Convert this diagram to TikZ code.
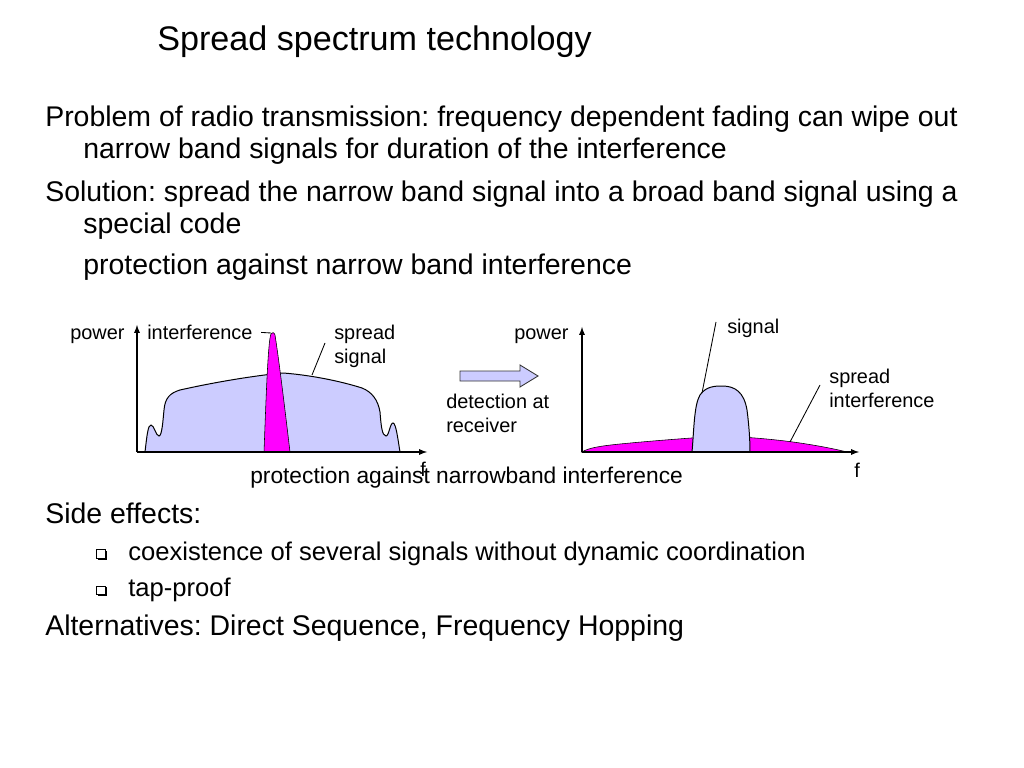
\documentclass[tikz,border=0pt]{standalone}
\usepackage{fontspec}
\setmainfont{Liberation Sans}
\usepackage{tikz}
\usetikzlibrary{arrows}
\tikzset{>=latex}
\definecolor{lavender}{RGB}{204,204,255}
\definecolor{hotpink}{RGB}{255,0,255}
\frenchspacing

\begin{document}
\begin{tikzpicture}[x=0.703125pt,y=-0.703125pt,
	txt/.style={anchor=base west,inner sep=0pt},
	ttl/.style={txt,font=\fontsize{24}{29}\selectfont},
	body/.style={txt,font=\fontsize{20}{24}\selectfont},
	subbody/.style={txt,font=\fontsize{18}{22}\selectfont},
	lbl/.style={txt,font=\fontsize{14}{17}\selectfont},
	captxt/.style={txt,font=\fontsize{16}{19}\selectfont},
	axis/.style={->,line width=0.9pt},
	lead/.style={line width=0.6pt},
	curve/.style={line width=0.7pt,draw=black}]
	\useasboundingbox[fill=white] (0,0) rectangle (1024,768);
	% text of the slide
	\node[ttl] (title) at (157,51) {Spread spectrum technology};
	\node[body] (prob1) at (45,127) {Problem of radio transmission: frequency dependent fading can wipe out};
	\node[body] (prob2) at (83,159) {narrow band signals for duration of the interference};
	\node[body] (sol1) at (45,201.5) {Solution: spread the narrow band signal into a broad band signal using a};
	\node[body] (sol2) at (83,233.5) {special code};
	\node[body] (prot) at (83,275) {protection against narrow band interference};
	\node[body] (side) at (45,523) {Side effects:};
	\node[subbody] (coex) at (128,560) {coexistence of several signals without dynamic coordination};
	\node[subbody] (tap) at (128,596.5) {tap-proof};
	\node[body] (alt) at (45,635) {Alternatives: Direct Sequence, Frequency Hopping};
	\foreach \y in {549.5,586}{
		\fill (97.5,\y+8) rectangle (106.8,\y+10.2);
		\fill (104.6,\y+1) rectangle (106.8,\y+10.2);
		\draw[line width=0.5pt] (96.5,\y) rectangle (105,\y+8.5);
	}
	% left spectrum
	\coordinate (o1) at (137,452);
	\coordinate (y1) at (137,325);
	\coordinate (x1) at (427,452);
	\filldraw[curve,fill=lavender] (145,452) .. controls (147,435) and (148,425) .. (151,425)
		.. controls (154,425) and (156,436) .. (159,436)
		.. controls (162,436) and (163,420) .. (164,410)
		.. controls (165,398) and (170,393) .. (180,390)
		.. controls (220,381) and (260,375) .. (283,373)
		.. controls (310,375) and (340,381) .. (362,388)
		.. controls (372,392) and (378,400) .. (380,412)
		.. controls (381,425) and (382,436) .. (386,436)
		.. controls (389,436) and (390,423) .. (393,423)
		.. controls (396,423) and (398,440) .. (400,452) -- cycle;
	\filldraw[curve,fill=hotpink,line width=0.4pt] (264,452) .. controls (266,400) and (268,340) .. (271,334)
		.. controls (272,332) and (274,332) .. (275,335)
		.. controls (279,360) and (285,410) .. (290,452) -- cycle;
	\draw[axis] (o1) -- (y1);
	\draw[axis] (o1) -- (x1);
	\node[lbl] (pow1) at (70,339) {power};
	\node[lbl] (intf) at (147,339) {interference};
	\node[lbl] (spr1) at (334,339) {spread};
	\node[lbl] (sig1) at (334,363) {signal};
	\node[lbl] (f1) at (420,476) {f};
	\coordinate (peak) at (271,333);
	\coordinate (top1) at (325,343);
	\coordinate (edge1) at (312,375);
	\draw[lead,shorten <=6pt] (intf.east) -- (peak);
	\draw[lead] (top1) -- (edge1);
	\node[captxt] (protnb) at (250,483) {protection against narrowband interference};
	% block arrow
	\filldraw[fill=lavender,draw=black!80,line width=0.6pt] (460,371) -- (520,371) -- (520,365)
		-- (538,376) -- (520,387) -- (520,381) -- (460,381) -- cycle;
	\node[lbl] (det1) at (446,408) {detection at};
	\node[lbl] (det2) at (446,432) {receiver};
	% right spectrum
	\coordinate (o2) at (582,452);
	\coordinate (y2) at (582,327);
	\coordinate (x2) at (859,452);
	\filldraw[curve,fill=hotpink,line width=0.4pt] (582,452) .. controls (588,448) and (600,446) .. (620,444)
		.. controls (650,441) and (690,438) .. (720,436)
		.. controls (750,437) and (780,440) .. (800,443)
		.. controls (820,446) and (835,449) .. (847,452) -- cycle;
	\filldraw[curve,fill=lavender] (692,452) .. controls (694,430) and (694,405) .. (700,395)
		.. controls (706,386) and (716,386) .. (722,386)
		.. controls (735,386) and (744,392) .. (747,410)
		.. controls (749,425) and (750,440) .. (750,452) -- cycle;
	\draw[axis] (o2) -- (y2);
	\draw[axis] (o2) -- (x2);
	\node[lbl] (pow2) at (514,339) {power};
	\node[lbl] (sig2) at (727,333) {signal};
	\node[lbl] (spr2) at (829,383) {spread};
	\node[lbl] (intf2) at (829,407) {interference};
	\node[lbl] (f2) at (854,477) {f};
	\coordinate (top2) at (716,322);
	\coordinate (edge2) at (702,393);
	\coordinate (top3) at (820,385);
	\coordinate (edge3) at (790,442);
	\draw[lead] (top2) -- (edge2);
	\draw[lead] (top3) -- (edge3);
\end{tikzpicture}
\end{document}
